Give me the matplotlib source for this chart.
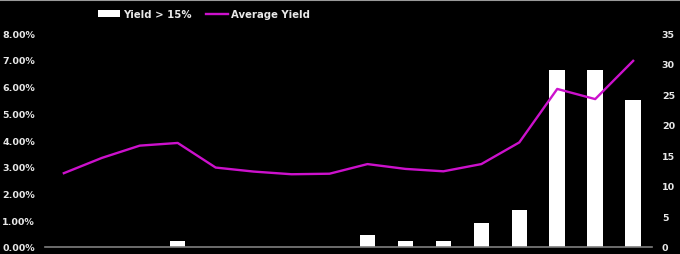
import matplotlib
matplotlib.use("Agg")
import matplotlib.pyplot as plt
from matplotlib.lines import Line2D
from matplotlib.ticker import PercentFormatter
import numpy as np

# values
periods = list(range(16))
avg_yield = [2.76, 3.33, 3.79, 3.89, 2.97, 2.82, 2.72, 2.74,
             3.10, 2.92, 2.83, 3.10, 3.91, 5.91, 5.53, 6.96]
count_over_15 = [0, 0, 0, 1, 0, 0, 0, 0,
                 2, 1, 1, 4, 6, 29, 29, 24]
left_ticks = [0, 1, 2, 3, 4, 5, 6, 7, 8]
right_ticks = [0, 5, 10, 15, 20, 25, 30, 35]

bg = "black"
fg = "#e8e8e8"
magenta = "#cc11cc"

plt.rcParams["font.family"] = "DejaVu Sans"
plt.rcParams["font.weight"] = "bold"

fig = plt.figure(figsize=(6.8, 2.55), dpi=100, facecolor=bg)
ax = fig.add_axes([0.066, 0.0275, 0.893, 0.839])
ax.set_facecolor(bg)
ax2 = ax.twinx()

x = np.array(periods)
bars = ax2.bar(x, count_over_15, width=0.41, color="white", label="Yield > 15%", zorder=2)
line, = ax.plot(x, avg_yield, color=magenta, lw=1.7, label="Average Yield", zorder=3)
ax.set_zorder(ax2.get_zorder() + 1)
ax.patch.set_visible(False)
ax2.patch.set_facecolor(bg)

ax.set_xlim(-0.5, 15.5)
ax.set_ylim(0, 8)
ax2.set_ylim(0, 35)
ax.set_yticks(left_ticks)
ax.yaxis.set_major_formatter(PercentFormatter(decimals=2))
ax2.set_yticks(right_ticks)
ax.set_xticks([])

for a in (ax, ax2):
    for s in a.spines.values():
        s.set_visible(False)
    a.tick_params(length=0, labelsize=6.8, colors=fg)
ax.tick_params(axis="y", pad=7)
ax2.tick_params(axis="y", pad=7)
for lbl in ax.get_yticklabels() + ax2.get_yticklabels():
    lbl.set_fontweight("bold")

ax2.spines["bottom"].set_visible(True)
ax2.spines["bottom"].set_color("#7f7f7f")
ax2.spines["bottom"].set_linewidth(1.2)

leg = fig.legend([bars, line], ["Yield > 15%", "Average Yield"], loc="upper left",
                 bbox_to_anchor=(0.13, 0.995), ncol=2, frameon=False, fontsize=7.3,
                 handlelength=2.2, handletextpad=0.3, columnspacing=1.4)
for t in leg.get_texts():
    t.set_color(fg)
    t.set_fontweight("bold")

fig.add_artist(Line2D([0, 1], [0.997, 0.997], transform=fig.transFigure,
                      color="#999999", lw=1.5))

fig.savefig("out.png", dpi=100, facecolor=bg)
